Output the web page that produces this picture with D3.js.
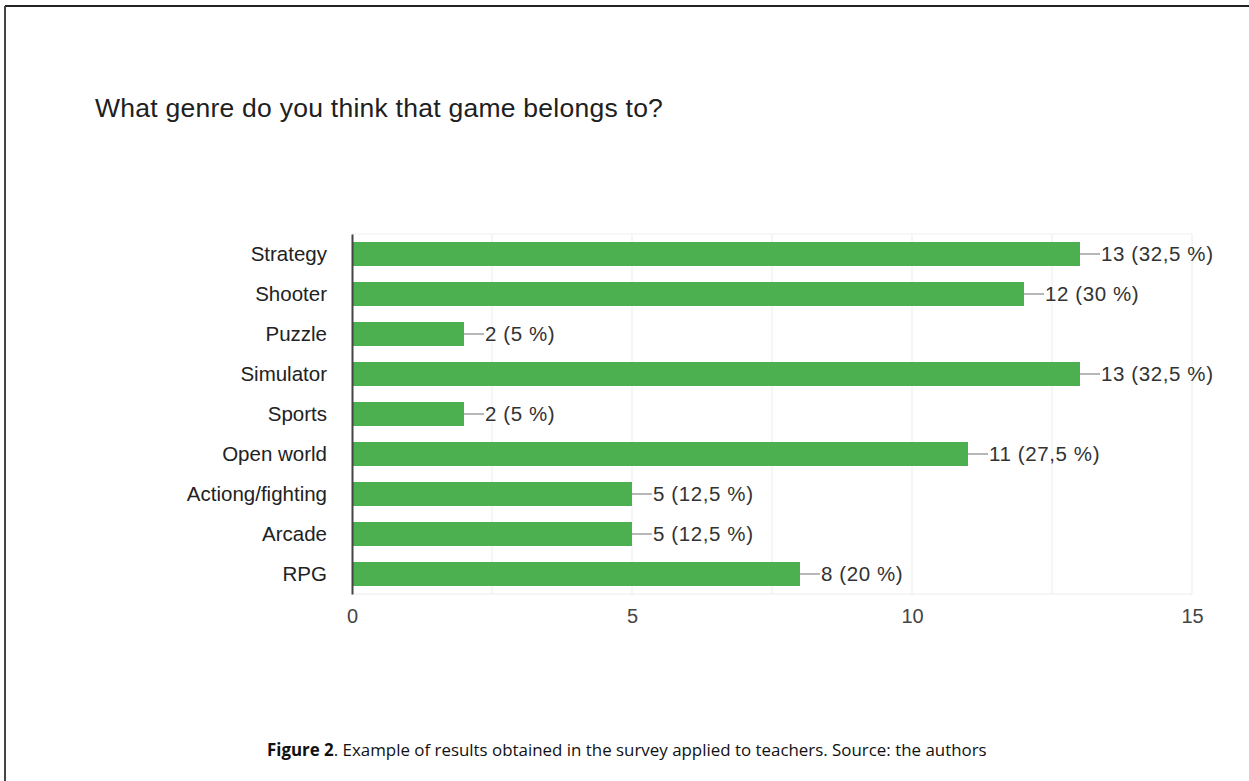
<!DOCTYPE html>
<html>
<head>
<meta charset="utf-8">
<script src="https://cdn.jsdelivr.net/npm/d3@7"></script>
<style>
html,body{margin:0;padding:0;background:#fff;}
svg{display:block;}
</style>
</head>
<body>
<svg id="chart" width="1249" height="781"></svg>
<script>
const categories = ["Strategy","Shooter","Puzzle","Simulator","Sports","Open world","Actiong/fighting","Arcade","RPG"];
const counts = [13,12,2,13,2,11,5,5,8];
const percentLabels = ["32,5 %","30 %","5 %","32,5 %","5 %","27,5 %","12,5 %","12,5 %","20 %"];
const tickValues = [0,5,10,15];
const gridValues = [2.5,5,7.5,10,12.5,15];
const title = "What genre do you think that game belongs to?";
const captionBold = "Figure 2";
const captionRest = ". Example of results obtained in the survey applied to teachers. Source: the authors";

const svg = d3.select("#chart");
const W = 1249, H = 781;

// frame border (top and left)
svg.append("line").attr("x1",5).attr("x2",W).attr("y1",6).attr("y2",6).attr("stroke","#222").attr("stroke-width",2);
svg.append("line").attr("x1",5).attr("x2",5).attr("y1",6).attr("y2",H).attr("stroke","#444").attr("stroke-width",2);

svg.append("text").attr("x",95).attr("y",117)
  .attr("font-family","Liberation Sans, Arial, sans-serif").attr("font-size",26.5)
  .attr("letter-spacing",0.25)
  .attr("fill","#202020").text(title);

const x = d3.scaleLinear().domain([0,15]).range([352,1192]);
const y = d3.scaleBand().domain(categories).range([234,594]).paddingInner(0.4).paddingOuter(0.2);

const font = "Liberation Sans, Arial, sans-serif";

// gridlines
svg.append("g").selectAll("line").data(gridValues).join("line")
  .attr("x1",d=>x(d)).attr("x2",d=>x(d)).attr("y1",234).attr("y2",594)
  .attr("stroke","#ececec").attr("stroke-width",1);
svg.append("line").attr("x1",352).attr("x2",1192).attr("y1",234).attr("y2",234).attr("stroke","#f0f0f0");
svg.append("line").attr("x1",352).attr("x2",1192).attr("y1",594).attr("y2",594).attr("stroke","#ececec");

const data = categories.map((c,i)=>({c, v:counts[i], p:percentLabels[i]}));

// bars
svg.append("g").selectAll("rect").data(data).join("rect")
  .attr("x",x(0)).attr("y",d=>y(d.c)).attr("width",d=>x(d.v)-x(0)).attr("height",y.bandwidth())
  .attr("fill","#4caf50");

// connectors
svg.append("g").selectAll("line").data(data).join("line")
  .attr("x1",d=>x(d.v)).attr("x2",d=>x(d.v)+20)
  .attr("y1",d=>y(d.c)+y.bandwidth()/2).attr("y2",d=>y(d.c)+y.bandwidth()/2)
  .attr("stroke","#888").attr("stroke-width",1.2);

// value labels
svg.append("g").selectAll("text").data(data).join("text")
  .attr("x",d=>x(d.v)+21).attr("y",d=>y(d.c)+y.bandwidth()/2)
  .attr("dy","0.35em").attr("font-family",font).attr("font-size",20.5)
  .attr("letter-spacing",0.6)
  .attr("fill","#333").text(d=>`${d.v} (${d.p})`);

// y axis
const yAxis = svg.append("g").attr("transform","translate(352,0)")
  .call(d3.axisLeft(y).tickSize(0).tickPadding(25));
yAxis.select(".domain").attr("stroke","#444").attr("stroke-width",2);
yAxis.selectAll("text").attr("font-family",font).attr("font-size",20.5).attr("fill","#222");

// x axis
const xAxis = svg.append("g").attr("transform","translate(0,594)")
  .call(d3.axisBottom(x).tickValues(tickValues).tickSize(0).tickPadding(15).tickFormat(d3.format("d")));
xAxis.select(".domain").remove();
xAxis.selectAll("text").attr("font-family",font).attr("font-size",20).attr("fill","#444");

// caption
const cap = svg.append("text").attr("x",267).attr("y",756)
  .attr("font-family","Open Sans, Noto Sans, sans-serif").attr("font-size",16.9).attr("fill","#111");
cap.append("tspan").attr("font-weight","bold").text(captionBold);
cap.append("tspan").text(captionRest);
</script>
</body>
</html>
